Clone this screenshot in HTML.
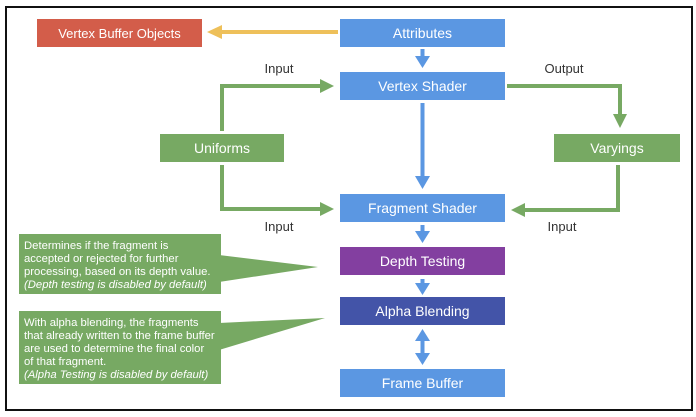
<!DOCTYPE html>
<html><head><style>
body{margin:0;width:696px;height:417px;background:#fff;overflow:hidden;font-family:"Liberation Sans",sans-serif}
svg{position:absolute;left:0;top:0}
text{font-family:"Liberation Sans",sans-serif}
</style></head><body>
<svg width="696" height="417" viewBox="0 0 696 417">
<rect x="6" y="7" width="686" height="403" fill="#fff" stroke="#111" stroke-width="2"/>
<rect x="37" y="19" width="165" height="28" fill="#d35d4a"/>
<text x="119.5" y="38" fill="#fff" font-size="13" text-anchor="middle">Vertex Buffer Objects</text>
<g font-size="14" fill="#fff" text-anchor="middle">
<rect x="340" y="19" width="165" height="28" fill="#5b97e2"/>
<text x="422.5" y="38" fill="#fff">Attributes</text>
<rect x="340" y="72" width="165" height="28" fill="#5b97e2"/>
<text x="422.5" y="91" fill="#fff">Vertex Shader</text>
<rect x="340" y="194" width="165" height="28" fill="#5b97e2"/>
<text x="422.5" y="213" fill="#fff">Fragment Shader</text>
<rect x="340" y="247" width="165" height="28" fill="#833fa0"/>
<text x="422.5" y="266" fill="#fff">Depth Testing</text>
<rect x="340" y="297" width="165" height="28" fill="#4354a8"/>
<text x="422.5" y="316" fill="#fff">Alpha Blending</text>
<rect x="340" y="369" width="165" height="28" fill="#5b97e2"/>
<text x="422.5" y="388" fill="#fff">Frame Buffer</text>
<rect x="160" y="134" width="124" height="28" fill="#77a963"/>
<text x="222" y="153" fill="#fff">Uniforms</text>
<rect x="554" y="134" width="126" height="28" fill="#77a963"/>
<text x="617" y="153" fill="#fff">Varyings</text>
</g>
<g font-size="13" fill="#333" text-anchor="middle">
<text x="279" y="73">Input</text>
<text x="564" y="73">Output</text>
<text x="279" y="231">Input</text>
<text x="562" y="231">Input</text>
</g>
<line x1="338" y1="32" x2="220" y2="32" stroke="#eec05a" stroke-width="4"/>
<polygon points="207,32 222,25 222,39" fill="#eec05a"/>
<g fill="none" stroke="#77a963" stroke-width="4">
<polyline points="222,131 222,86 322,86"/>
<polyline points="222,165 222,209 322,209"/>
<polyline points="507,86 620,86 620,116"/>
<polyline points="618,165 618,210 525,210"/>
</g>
<g fill="#77a963">
<polygon points="334,86 320,79 320,93"/>
<polygon points="334,209 320,202 320,216"/>
<polygon points="620,128 613,114 627,114"/>
<polygon points="511,210 525,203 525,217"/>
</g>
<g stroke="#5b97e2" stroke-width="4">
<line x1="422.5" y1="49" x2="422.5" y2="58"/>
<line x1="422.5" y1="103" x2="422.5" y2="178"/>
<line x1="422.5" y1="225" x2="422.5" y2="233"/>
<line x1="422.5" y1="279" x2="422.5" y2="285"/>
<line x1="422.5" y1="338" x2="422.5" y2="356"/>
</g>
<g fill="#5b97e2">
<polygon points="422.5,68 415,56 430,56"/>
<polygon points="422.5,189 415,176 430,176"/>
<polygon points="422.5,243 415,231 430,231"/>
<polygon points="422.5,295 415,283 430,283"/>
<polygon points="422.5,329 415,341 430,341"/>
<polygon points="422.5,365 415,353 430,353"/>
</g>
<polygon points="219,255 318,267 219,282" fill="#77a963"/>
<rect x="19" y="234" width="202" height="60" fill="#77a963"/>
<polygon points="219,323 325,318 219,350" fill="#77a963"/>
<rect x="19" y="311" width="202" height="73" fill="#77a963"/>
<g font-size="11.3" fill="#fff">
<text x="24" y="249">Determines if the fragment is</text>
<text x="24" y="262">accepted or rejected for further</text>
<text x="24" y="275">processing, based on its depth value.</text>
<text x="24" y="288" font-style="italic">(Depth testing is disabled by default)</text>
<text x="24" y="326">With alpha blending, the fragments</text>
<text x="24" y="339">that already written to the frame buffer</text>
<text x="24" y="352">are used to determine the final color</text>
<text x="24" y="365">of that fragment.</text>
<text x="24" y="378" font-style="italic">(Alpha Testing is disabled by default)</text>
</g>
</svg>
</body></html>
